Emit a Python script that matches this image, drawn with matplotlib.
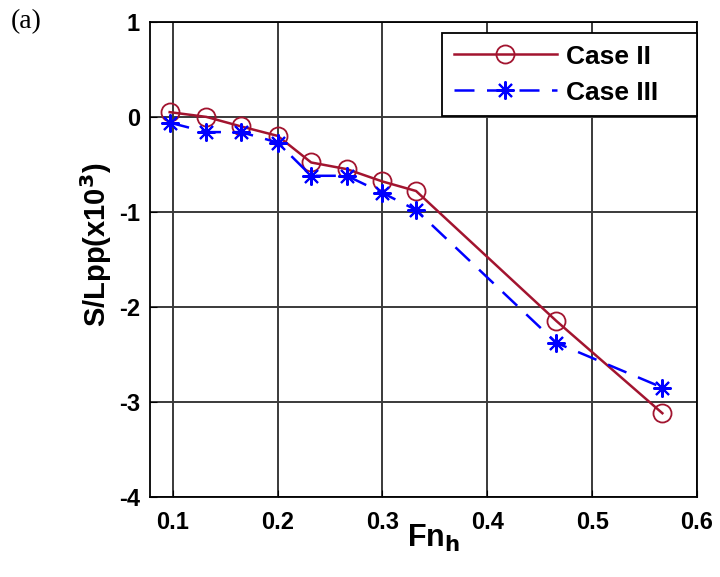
import matplotlib.pyplot as plt

fn = [0.097, 0.132, 0.165, 0.2, 0.232, 0.266, 0.3, 0.332, 0.466, 0.567]
case2 = [0.05, 0.0, -0.1, -0.2, -0.48, -0.55, -0.68, -0.78, -2.15, -3.12]
case3 = [-0.06, -0.16, -0.16, -0.27, -0.62, -0.62, -0.8, -0.98, -2.38, -2.85]

plt.rcParams['font.family'] = ['Liberation Sans', 'DejaVu Sans']
plt.rcParams['axes.unicode_minus'] = False
plt.rcParams['mathtext.default'] = 'bf'

fig = plt.figure(figsize=(7.2, 5.77), dpi=100)
ax = fig.add_axes([0.208, 0.139, 0.76, 0.823])

ax.plot(fn, case2, color='#A2142F', linewidth=1.8, marker='o', markersize=13,
        markerfacecolor='none', markeredgecolor='#A2142F', markeredgewidth=1.3,
        label='Case II')
ax.plot(fn, case3, color='blue', linewidth=1.8, linestyle=(0, (8, 5)),
        marker=(8, 2, 0), markersize=13, markeredgewidth=1.5,
        label='Case III')

ax.set_xlim(0.078, 0.6)
ax.set_ylim(-4, 1)
ax.set_xticks([0.1, 0.2, 0.3, 0.4, 0.5, 0.6])
ax.set_xticklabels(['0.1', '0.2', '0.3', '0.4', '0.5', '0.6'])
ax.set_yticks([-4, -3, -2, -1, 0, 1])
ax.grid(True, color='#3a3a3a', linewidth=1.4)
ax.tick_params(labelsize=17, direction='in', length=5, pad=7)
ax.tick_params(axis='x', pad=10)
for lab in ax.get_xticklabels() + ax.get_yticklabels():
    lab.set_fontweight('bold')
for s in ax.spines.values():
    s.set_linewidth(1.3)

ax.set_xlabel('Fn$_h$', fontsize=22, fontweight='bold')
ax.xaxis.set_label_coords(0.518, -0.055)
ax.set_ylabel('S/Lpp(x10$^3$)', fontsize=21, fontweight='bold')
ax.yaxis.set_label_coords(-0.065, 0.53)

leg = ax.legend(loc='upper right', bbox_to_anchor=(0.534, 0.8, 0.466, 0.177),
                mode='expand', borderaxespad=0,
                prop={'weight': 'bold', 'size': 19},
                fancybox=False, framealpha=1, edgecolor='black',
                handlelength=3.9, handletextpad=0.35, borderpad=0.45,
                labelspacing=0.45)
leg.get_frame().set_linewidth(1.3)

fig.text(0.015, 0.985, '(a)', fontsize=20, family='Liberation Serif', va='top')

plt.savefig('out.png', dpi=100)
